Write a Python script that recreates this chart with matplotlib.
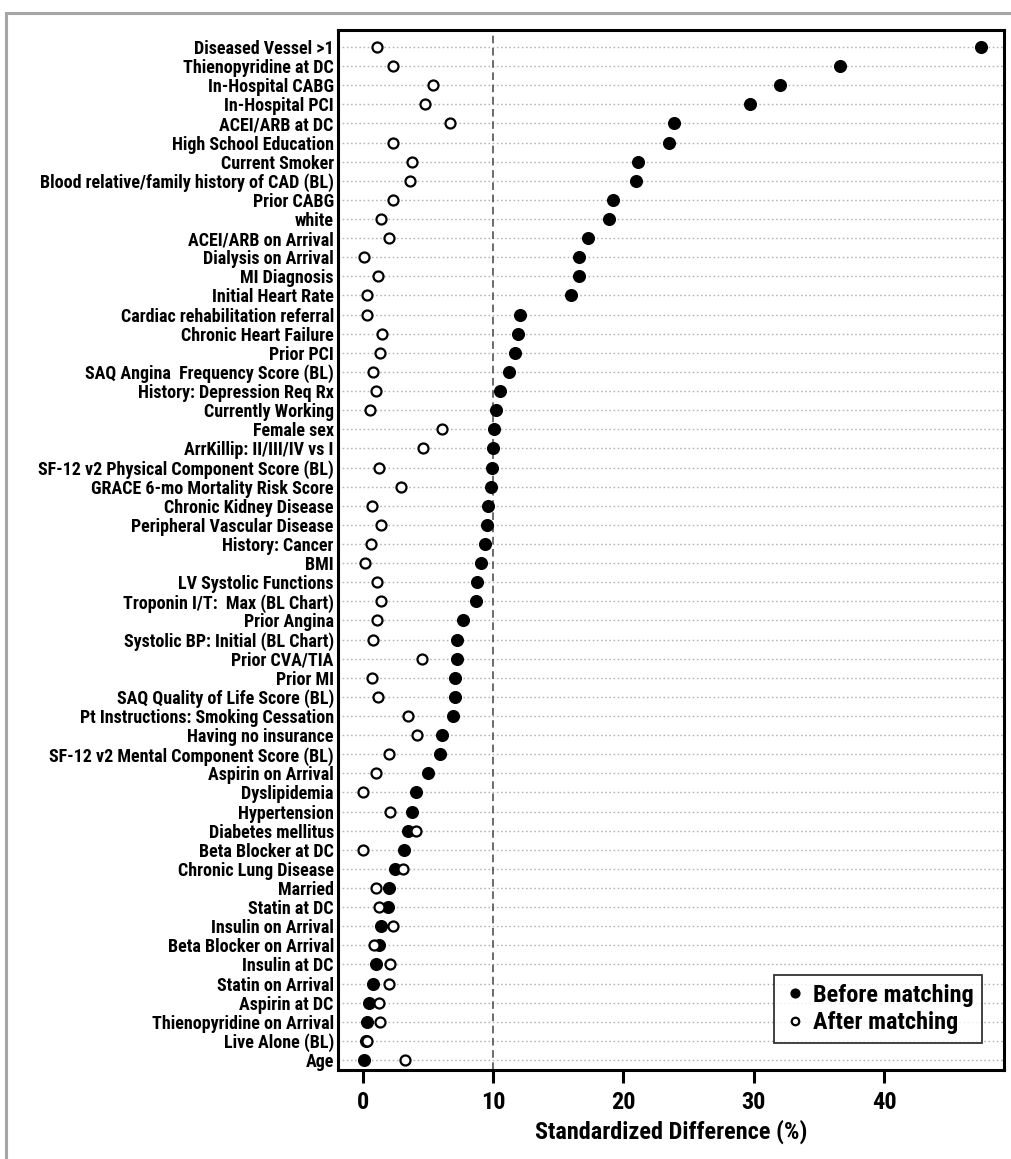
import matplotlib
matplotlib.use("Agg")
import matplotlib.pyplot as plt
import matplotlib.font_manager as fm
from matplotlib.patches import Rectangle

# covariates, top to bottom
labels = [
    "Diseased Vessel >1", "Thienopyridine at DC", "In-Hospital CABG", "In-Hospital PCI",
    "ACEI/ARB at DC", "High School Education", "Current Smoker",
    "Blood relative/family history of CAD (BL)", "Prior CABG", "white",
    "ACEI/ARB on Arrival", "Dialysis on Arrival", "MI Diagnosis", "Initial Heart Rate",
    "Cardiac rehabilitation referral", "Chronic Heart Failure", "Prior PCI",
    "SAQ Angina  Frequency Score (BL)", "History: Depression Req Rx", "Currently Working",
    "Female sex", "ArrKillip: II/III/IV vs I", "SF-12 v2 Physical Component Score (BL)",
    "GRACE 6-mo Mortality Risk Score", "Chronic Kidney Disease", "Peripheral Vascular Disease",
    "History: Cancer", "BMI", "LV Systolic Functions", "Troponin I/T:  Max (BL Chart)",
    "Prior Angina", "Systolic BP: Initial (BL Chart)", "Prior CVA/TIA", "Prior MI",
    "SAQ Quality of Life Score (BL)", "Pt Instructions: Smoking Cessation",
    "Having no insurance", "SF-12 v2 Mental Component Score (BL)", "Aspirin on Arrival",
    "Dyslipidemia", "Hypertension", "Diabetes mellitus", "Beta Blocker at DC",
    "Chronic Lung Disease", "Married", "Statin at DC", "Insulin on Arrival",
    "Beta Blocker on Arrival", "Insulin at DC", "Statin on Arrival", "Aspirin at DC",
    "Thienopyridine on Arrival", "Live Alone (BL)", "Age",
]

# standardized differences (%) before matching
before = [
    47.4, 36.6, 32.0, 29.7, 23.9, 23.5, 21.1, 21.0, 19.2, 18.9,
    17.3, 16.6, 16.6, 16.0, 12.1, 11.9, 11.7, 11.2, 10.5, 10.2,
    10.1, 10.0, 9.9, 9.85, 9.6, 9.5, 9.4, 9.1, 8.8, 8.7,
    7.7, 7.25, 7.2, 7.1, 7.1, 6.9, 6.1, 5.9, 5.0, 4.1,
    3.8, 3.45, 3.2, 2.5, 2.0, 1.9, 1.4, 1.25, 1.0, 0.8,
    0.5, 0.35, 0.25, 0.1,
]

# standardized differences (%) after matching
after = [
    1.1, 2.3, 5.4, 4.8, 6.7, 2.3, 3.8, 3.6, 2.3, 1.4,
    2.0, 0.1, 1.2, 0.3, 0.35, 1.5, 1.3, 0.8, 1.0, 0.55,
    6.1, 4.65, 1.25, 2.9, 0.7, 1.4, 0.65, 0.2, 1.1, 1.4,
    1.1, 0.8, 4.55, 0.7, 1.15, 3.5, 4.15, 2.05, 1.0, 0.05,
    2.1, 4.1, 0.0, 3.1, 1.0, 1.25, 2.3, 0.85, 2.1, 2.0,
    1.25, 1.3, 0.35, 3.25,
]

available = {f.name for f in fm.fontManager.ttflist}
family = "DejaVu Sans"
for name in ["Liberation Sans Narrow", "Roboto Condensed", "Open Sans Condensed", "DejaVu Sans"]:
    if name in available:
        family = name
        break
plt.rcParams["font.family"] = [family, "DejaVu Sans"]
plt.rcParams["font.weight"] = "bold"

fig = plt.figure(figsize=(10.11, 11.59), dpi=100)
ax = fig.add_axes([338 / 1011, 1 - 1070 / 1159, 666 / 1011, 1040 / 1159])

# grey frame around the figure
fig.patches.append(Rectangle((6 / 1011, -0.05), 1.1, 1 - 13 / 1159 + 0.05,
                             transform=fig.transFigure, fill=False,
                             edgecolor="#a6a6a6", linewidth=2.2, zorder=0))

ypos = list(range(len(labels)))

for y in ypos:
    ax.axhline(y, color="#b5b5b5", linestyle=(0, (1.2, 1.8)), linewidth=1.0, zorder=1)
ax.axvline(10, color="#444444", linestyle=(0, (5, 3)), linewidth=1.1, zorder=1)

ax.plot(before, ypos, "o", color="black", markersize=8.4, linestyle="none",
        zorder=3, label="Before matching")
ax.plot(after, ypos, "o", markerfacecolor="white", markeredgecolor="black",
        markeredgewidth=1.6, markersize=7.2, linestyle="none", zorder=4,
        label="After matching")

ax.set_ylim(len(labels) - 1 + 0.52, -0.89)
ax.set_xlim(-1.9, 49.2)
ax.set_yticks(ypos)
ax.set_yticklabels(labels, fontsize=13, fontweight="bold")
ax.tick_params(axis="y", length=0, pad=3)
ax.set_xticks([0, 10, 20, 30, 40])
ax.tick_params(axis="x", direction="out", length=9, width=2.2, labelsize=17.5, pad=6)
for lbl in ax.get_xticklabels():
    lbl.set_fontweight("bold")
ax.set_xlabel("Standardized Difference (%)", fontsize=17.5, fontweight="bold", labelpad=4)

for sp in ax.spines.values():
    sp.set_linewidth(2.2)

leg = ax.legend(loc="lower right", bbox_to_anchor=(0.967, 0.026), borderaxespad=0,
                fontsize=17.5, markerscale=0.75, handletextpad=0.25, handlelength=1.0,
                fancybox=False, frameon=True, borderpad=0.35, labelspacing=0.2)
leg.get_frame().set_edgecolor("black")
leg.get_frame().set_linewidth(1.3)
for t in leg.get_texts():
    t.set_fontweight("bold")

fig.savefig("out.png", dpi=100)
